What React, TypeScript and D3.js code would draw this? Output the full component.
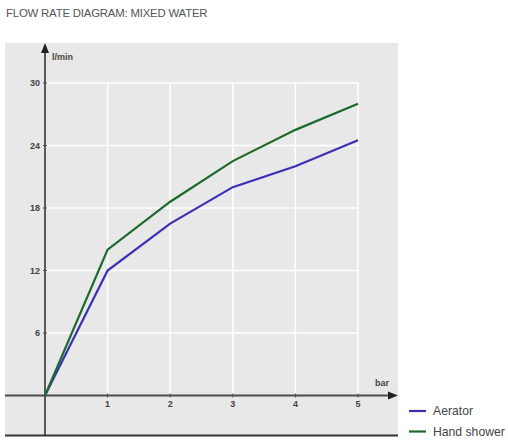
import * as React from "react";
import * as d3 from "d3";

const pressure = [0, 1, 2, 3, 4, 5];
const aerator = [0, 12, 16.5, 20, 22, 24.5];
const handShower = [0, 14, 18.6, 22.5, 25.5, 28];
const yTicks = [6, 12, 18, 24, 30];
const xTicks = [1, 2, 3, 4, 5];

const series = [
  { name: "Aerator", values: aerator, color: "#3b2fb5" },
  { name: "Hand shower", values: handShower, color: "#1c6b2c" },
];

const width = 508;
const height = 444;

const App: React.FC = () => {
  const x = d3.scaleLinear().domain([0, 5]).range([45, 358]);
  const y = d3.scaleLinear().domain([0, 30]).range([395.5, 83]);

  const line = (vals: number[]) =>
    d3
      .line<number>()
      .x((d, i) => x(pressure[i]))
      .y((d) => y(d))(vals) || undefined;

  const axisColor = "#4a4a4a";
  const font = "'Liberation Sans', Arial, sans-serif";

  return (
    <svg
      width={width}
      height={height}
      style={{ position: "absolute", left: 0, top: 0, background: "#fff" }}
    >
      <text
        x={6}
        y={17}
        fontFamily={font}
        fontSize={11.4}
        fill="#555"
        letterSpacing={-0.2}
      >
        FLOW RATE DIAGRAM: MIXED WATER
      </text>

      {/* panel */}
      <rect x={5} y={43} width={393} height={392} fill="#e8e8e8" />

      {/* grid */}
      <g stroke="#fff" strokeWidth={1.5}>
        {yTicks.map((t) => (
          <line key={"h" + t} x1={x(0)} x2={x(5)} y1={y(t)} y2={y(t)} />
        ))}
        {xTicks.map((t) => (
          <line key={"v" + t} x1={x(t)} x2={x(t)} y1={y(30)} y2={y(0)} />
        ))}
      </g>

      {/* axes */}
      <g stroke={axisColor} strokeWidth={1.8}>
        <line x1={x(0)} x2={x(0)} y1={50} y2={436} />
        <line x1={5} x2={390} y1={y(0)} y2={y(0)} />
        <line x1={5} x2={398} y1={435.5} y2={435.5} stroke="#333" strokeWidth={2} />
      </g>
      <path d={`M${x(0)},43 L${x(0) - 4},53 L${x(0) + 4},53 Z`} fill="#222" />
      <path d={`M398,${y(0)} L388,${y(0) - 4} L388,${y(0) + 4} Z`} fill="#222" />

      {/* ticks */}
      <g stroke={axisColor} strokeWidth={1}>
        {yTicks.map((t) => (
          <line key={"yt" + t} x1={x(0) - 2} x2={x(0) + 2} y1={y(t)} y2={y(t)} />
        ))}
        {xTicks.map((t) => (
          <line key={"xt" + t} x1={x(t)} x2={x(t)} y1={y(0) - 2} y2={y(0) + 2} />
        ))}
      </g>
      <g fontFamily={font} fontSize={9} fontWeight={600} fill="#444">
        {yTicks.map((t) => (
          <text key={"yl" + t} x={40} y={y(t)} dy="0.35em" textAnchor="end">
            {t}
          </text>
        ))}
        {xTicks.map((t) => (
          <text key={"xl" + t} x={x(t)} y={407} textAnchor="middle">
            {t}
          </text>
        ))}
        <text x={52} y={60}>l/min</text>
        <text x={375} y={386}>bar</text>
      </g>

      {/* series */}
      {series.map((s) => (
        <path
          key={s.name}
          d={line(s.values)}
          fill="none"
          stroke={s.color}
          strokeWidth={2.2}
        />
      ))}

      {/* legend */}
      {series.map((s, i) => (
        <g key={"lg" + s.name} transform={`translate(409,${411 + i * 20.5})`}>
          <line x1={0} x2={17} y1={0} y2={0} stroke={s.color} strokeWidth={2.2} />
          <text
            x={24}
            y={0}
            dy="0.35em"
            fontFamily={font}
            fontSize={12.2}
            fill="#444"
          >
            {s.name}
          </text>
        </g>
      ))}
    </svg>
  );
};

export default App;
